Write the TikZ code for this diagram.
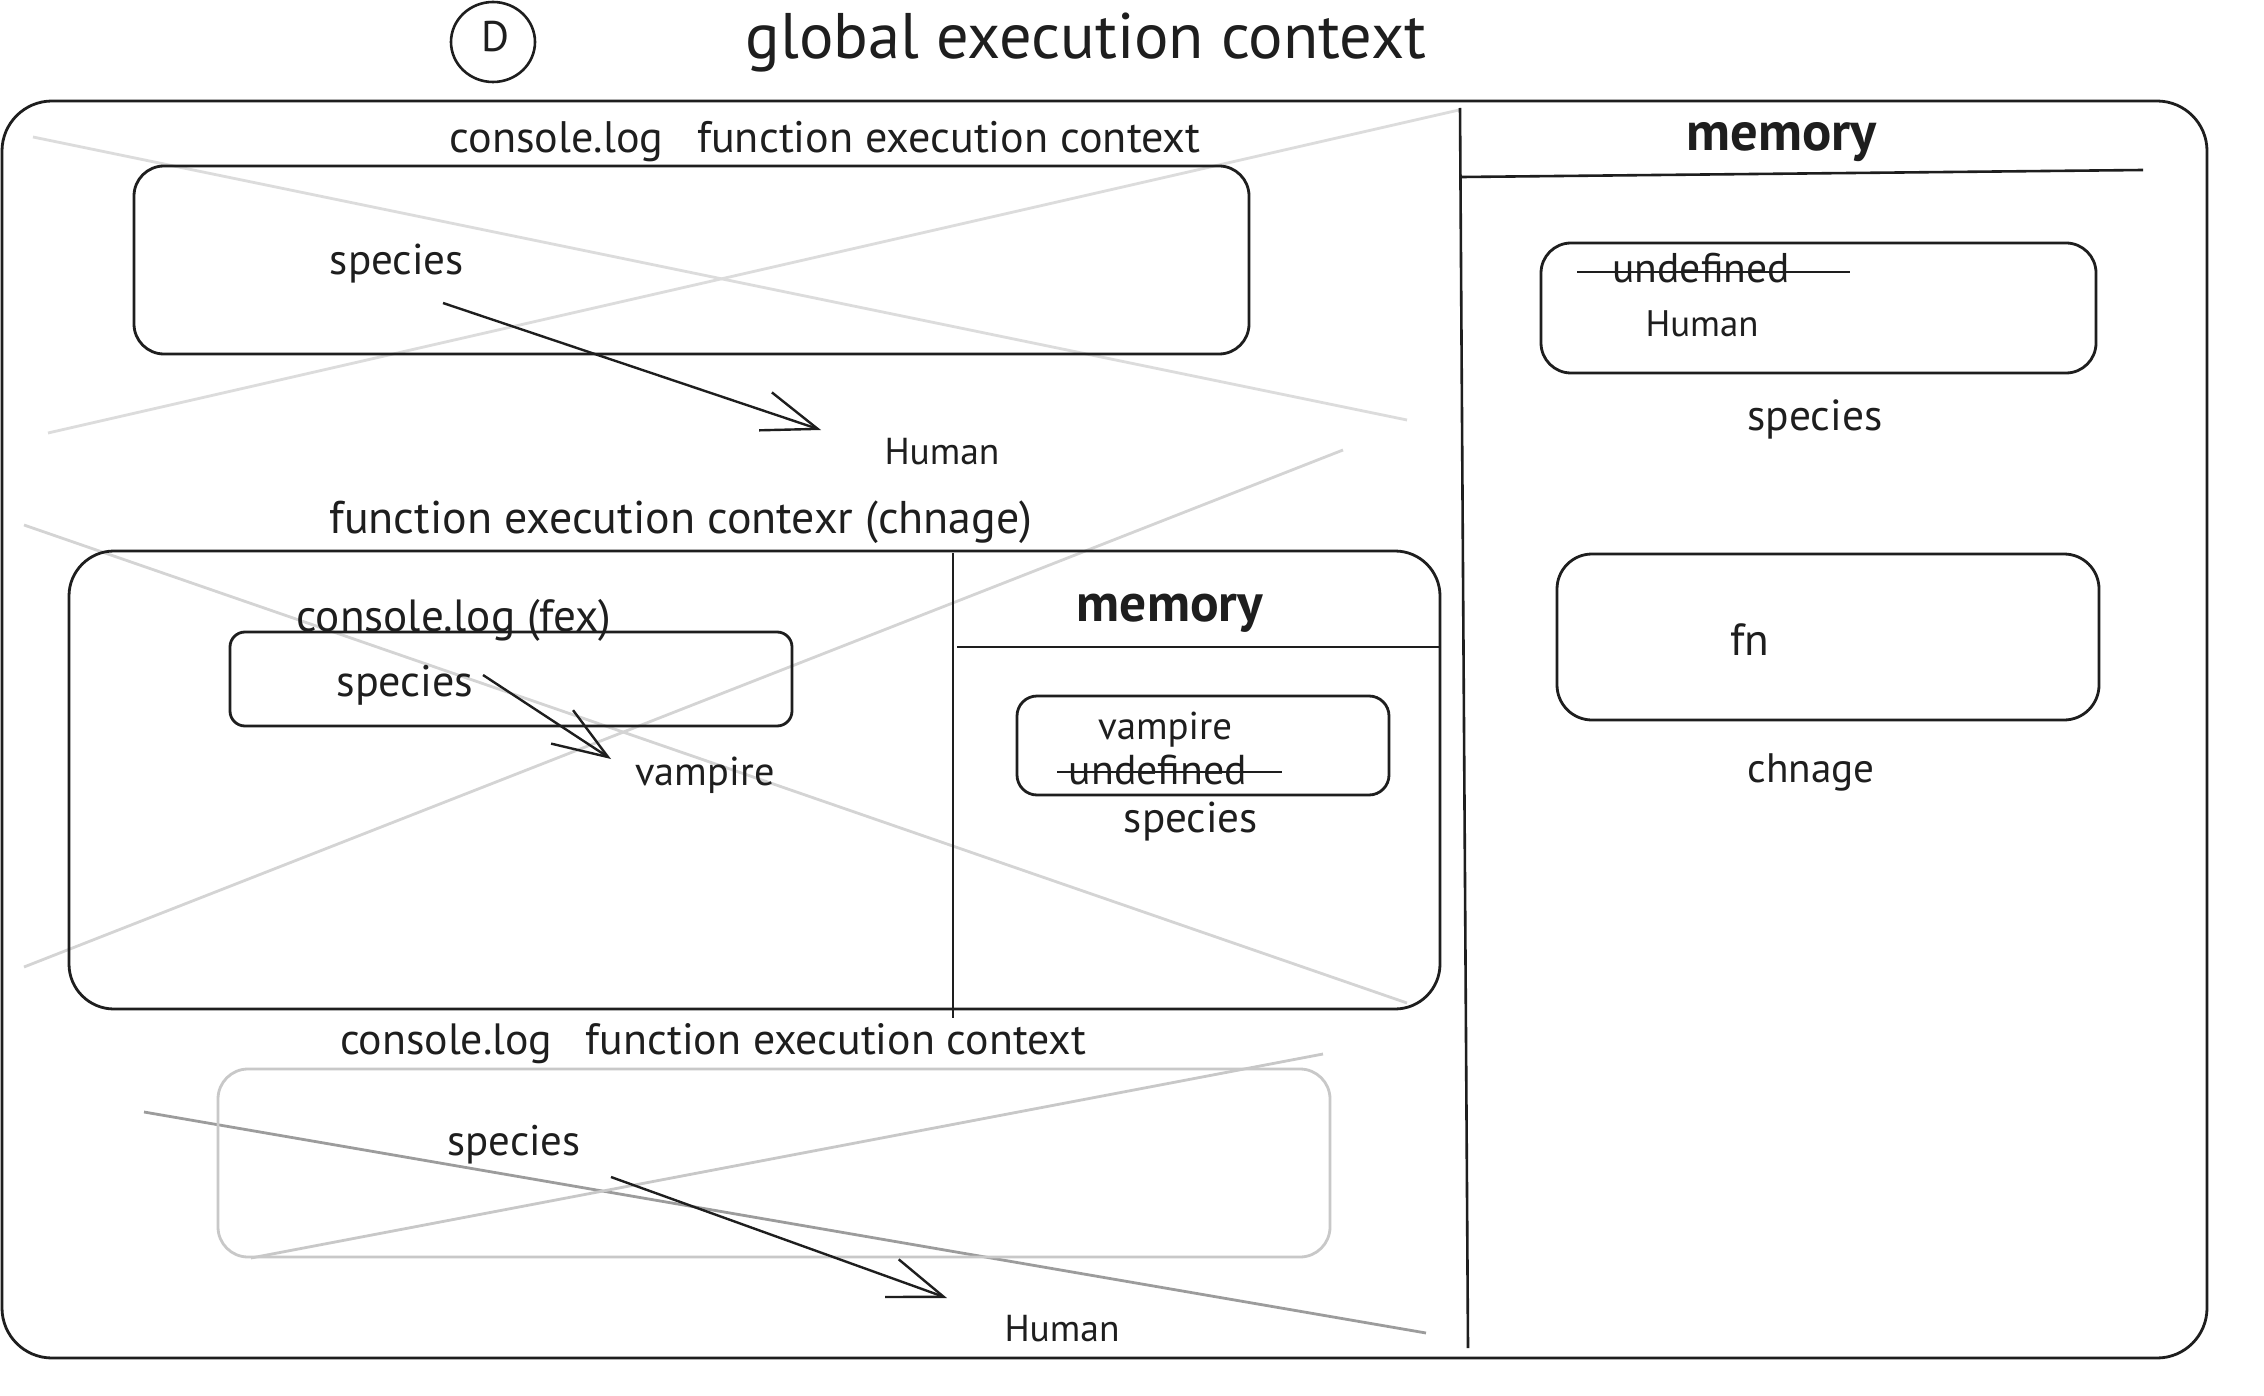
\documentclass[tikz,border=0pt]{standalone}
\usepackage{fontspec}
\usepackage{graphicx}
\setmainfont{PT Sans}
\usetikzlibrary{arrows.meta,shapes.geometric}
\definecolor{ink}{HTML}{1E1E1E}
\definecolor{gA}{HTML}{DCDCDC}
\definecolor{gB}{HTML}{D4D4D4}
\definecolor{gC}{HTML}{C8C8C8}
\definecolor{gD}{HTML}{9C9C9C}
\newcommand\tw[2]{\resizebox{#1pt}{!}{#2}}
\begin{document}
\begin{tikzpicture}[x=1pt,y=-1pt,
  box/.style={draw=ink, line width=2.8pt, rounded corners=#1, rectangle, inner sep=0pt},
  box/.default=30pt,
  lbl/.style={text=ink, inner sep=0pt},
  rule/.style={draw=ink, line width=2.6pt},
  strike/.style={draw=ink, line width=2.2pt},
  cross/.style={line width=2.8pt},
  arr/.style={draw=ink, line width=2.4pt, -{Straight Barb[length=55pt,width=40pt,line width=2.4pt]}}]
\useasboundingbox (0,0) rectangle (2264,1396);
\fill[white] (0,0) rectangle (2264,1396);

% background crosses
\draw[cross, gA] (33,137) -- (1407,420);
\draw[cross, gA] (48,433) -- (1459,110);
\draw[cross, gB] (24,525) -- (1407,1003);
\draw[cross, gB] (24,967) -- (1343,450);
\draw[cross, gD] (144,1112) -- (1426,1333);
\draw[cross, gC] (251,1258) -- (1323,1054);

% title
\node[draw=ink, ellipse, line width=2.6pt, minimum width=84pt, minimum height=80pt, inner sep=0pt] (dc) at (493,42) {};
\node[lbl] (dl) at (495,37) {\tw{28}{D}};
\node[lbl] (title) at (1086,43) {\tw{680}{global execution context}};

% outer frame
\node[box=50pt, minimum width=2205pt, minimum height=1257pt] (outer) at (1104.5,729.5) {};
\draw[rule] (1460,108) -- (1468,1348);
\draw[rule] (1462,177) -- (2143,170);

% global memory
\node[lbl] (gmem) at (1782,142) {\tw{190}{\bfseries memory}};
\node[box=30pt, minimum width=555pt, minimum height=130pt] (memA) at (1818.5,308) {};
\node[lbl] (undA) at (1701,268) {\tw{177}{undefined}};
\draw[strike] (1577,272) -- (1850,272);
\node[lbl] (humA) at (1702,324) {\tw{113}{Human}};
\node[lbl] (spA) at (1815,419) {\tw{135}{species}};
\node[box=35pt, minimum width=542pt, minimum height=166pt] (memB) at (1828,637) {};
\node[lbl] (fn) at (1750,640) {\tw{39}{fn}};
\node[lbl] (chn) at (1811,772) {\tw{127}{chnage}};

% top console.log context
\node[lbl] (t1) at (825,142) {\tw{751}{console.log\hspace{0.5em} function execution context}};
\node[box=30pt, minimum width=1115pt, minimum height=188pt] (box1) at (691.5,260) {};
\node[lbl] (sp1) at (397,264) {\tw{134}{species}};
\node[lbl] (hum1) at (942,452) {\tw{115}{Human}};
\coordinate (a1s) at (443,303);
\coordinate (a1e) at (821,430);
\draw[arr] (a1s) -- (a1e);

% function execution context (chnage)
\node[lbl] (t2) at (681,522) {\tw{703}{function execution contexr (chnage)}};
\node[box=45pt, minimum width=1371pt, minimum height=458pt] (box2) at (754.5,780) {};
\draw[rule] (953,553) -- (953,1018);
\draw[rule] (957,647) -- (1440,647);
\node[lbl] (mmem) at (1170,613) {\tw{186}{\bfseries memory}};
\node[box=20pt, minimum width=372pt, minimum height=99pt] (memC) at (1203,745.5) {};
\node[lbl] (vmp) at (1165,730) {\tw{134}{vampire}};
\node[lbl] (undC) at (1158,770) {\tw{178}{undefined}};
\draw[strike] (1057,772) -- (1282,772);
\node[lbl] (spC) at (1191,822) {\tw{134}{species}};

\node[lbl] (t3) at (454,620) {\tw{315}{console.log (fex)}};
\node[box=15pt, minimum width=562pt, minimum height=94pt] (inner) at (511,679) {};
\node[lbl] (sp2) at (405,685) {\tw{137}{species}};
\node[lbl] (vmp2) at (705,775) {\tw{139}{vampire}};
\coordinate (a2s) at (483,675);
\coordinate (a2e) at (611,759);
\draw[arr] (a2s) -- (a2e);

% bottom console.log context
\node[lbl] (t4) at (713,1044) {\tw{746}{console.log\hspace{0.5em} function execution context}};
\node[box=30pt, draw=gC, minimum width=1112pt, minimum height=188pt] (box3) at (774,1163) {};
\node[lbl] (sp3) at (514,1145) {\tw{133}{species}};
\node[lbl] (hum3) at (1062,1329) {\tw{115}{Human}};
\coordinate (a3s) at (611,1177);
\coordinate (a3e) at (947,1298);
\draw[arr] (a3s) -- (a3e);
\end{tikzpicture}
\end{document}
